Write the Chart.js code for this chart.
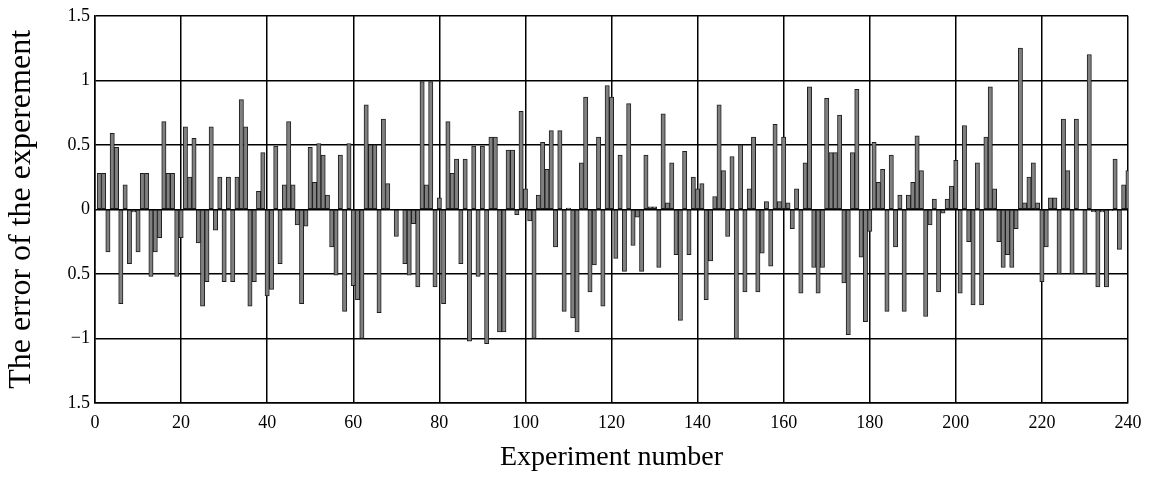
<!DOCTYPE html>
<html>
<head>
<meta charset="utf-8">
<script src="https://cdn.jsdelivr.net/npm/chart.js@4/dist/chart.umd.min.js"></script>
<style>
  html, body { margin: 0; padding: 0; background: #fff; }
  #wrap { width: 1160px; height: 499px; }
</style>
</head>
<body>
<div id="wrap"><canvas id="errChart" width="1160" height="499"></canvas></div>
<script>
// --- DATA (experiment 0..240) ---
const errors = [
    null,
    0.28, 0.28, -0.33, 0.59, 0.48, -0.73, 0.19, -0.42, -0.02, -0.33, 0.28, 0.28, -0.52, -0.33, -0.22, 0.68, 0.28, 0.28, -0.52, -0.22, 0.64, 0.25, 0.55, -0.26, -0.75,
    -0.56, 0.64, -0.16, 0.25, -0.56, 0.25, -0.56, 0.25, 0.85, 0.64, -0.75, -0.56, 0.14, 0.44, -0.67, -0.62, 0.49, -0.42, 0.19, 0.68, 0.19, -0.12, -0.73,
    -0.13, 0.48, 0.21, 0.51, 0.42, 0.11, -0.29, -0.51, 0.42, -0.79, 0.51, -0.59, -0.70, -1.0, 0.81, 0.5, 0.5, -0.80, 0.70, 0.20, 0.0, -0.21, 0.0, -0.42,
    -0.51, -0.11, -0.6, 0.99, 0.19, 0.99, -0.6, 0.09, -0.73, 0.68, 0.28, 0.39, -0.42, 0.39, -1.02, 0.49, -0.52, 0.49, -1.04, 0.56, 0.56, -0.95, -0.95, 0.46, 0.46,
    -0.04, 0.76, 0.16, -0.09, -1.0, 0.11, 0.52, 0.31, 0.61, -0.29, 0.61, -0.79, 0.01, -0.84, -0.95, 0.36, 0.87, -0.64, -0.43, 0.56, -0.75, 0.96, 0.87, -0.38,
    0.42, -0.48, 0.82, -0.28, -0.06, -0.48, 0.42, 0.02, 0.02, -0.45, 0.74, 0.05, 0.36, -0.35, -0.86, 0.45, -0.35, 0.25, 0.16, 0.20, -0.70, -0.40, 0.10, 0.81,
    0.30, -0.21, 0.41, -1.0, 0.5, -0.64, 0.16, 0.56, -0.64, -0.34, 0.06, -0.44, 0.66, 0.06, 0.56, 0.05, -0.15, 0.16, -0.65, 0.36, 0.95, -0.45, -0.65, -0.45, 0.86,
    0.44, 0.44, 0.73, -0.57, -0.97, 0.44, 0.93, -0.37, -0.87, -0.17, 0.52, 0.21, 0.31, -0.79, 0.42, -0.29, 0.11, -0.79, 0.11, 0.21, 0.57, 0.30, -0.83,
    -0.12, 0.08, -0.64, -0.03, 0.08, 0.18, 0.38, -0.65, 0.65, -0.25, -0.74, 0.36, -0.74, 0.56, 0.95, 0.16, -0.25, -0.45, -0.35, -0.45, -0.15, 1.25, 0.05, 0.25, 0.36,
    0.05, -0.56, -0.29, 0.09, 0.09, -0.5, 0.70, 0.30, -0.5, 0.70, 0.0, -0.5, 1.2, -0.02, -0.6, -0.02, -0.6, -0.01, 0.39, -0.31, 0.19, 0.30
];

const yTickValues = [1.5, 1, 0.5, 0, -0.5, -1, -1.5];
const yTickLabels = ['1.5', '1', '0.5', '0', '0.5', '\u22121', '1.5'];
const xTickStep = 20;
const xTitle = 'Experiment number';
const yTitle = 'The error of the experement';

// --- CHART ---
const points = errors.map((v, i) => ({ x: i, y: v }));
const serif = 'Liberation Serif, Times New Roman, serif';

new Chart(document.getElementById('errChart').getContext('2d'), {
    type: 'bar',
    data: {
        datasets: [{
            data: points,
            backgroundColor: '#808080',
            borderColor: '#1e1e1e',
            borderWidth: 1,
            borderSkipped: false,
            barPercentage: 1,
            categoryPercentage: 1,
            clip: 0
        }]
    },
    options: {
        responsive: false,
        animation: false,
        devicePixelRatio: 1,
        layout: { padding: { top: 15, right: 32, left: 0, bottom: 0 } },
        plugins: { legend: { display: false }, tooltip: { enabled: false } },
        scales: {
            x: {
                type: 'linear',
                min: 0,
                max: 240,
                offset: false,
                grid: { color: '#000', lineWidth: 1.5, offset: false, drawTicks: false },
                border: { color: '#000', width: 1.5 },
                ticks: {
                    stepSize: xTickStep,
                    padding: 9,
                    color: '#000',
                    maxRotation: 0,
                    font: { family: serif, size: 18 }
                },
                title: {
                    display: true,
                    text: xTitle,
                    color: '#000',
                    font: { family: serif, size: 28, lineHeight: 1 },
                    padding: { top: 0, bottom: 27 }
                },
                afterFit: (scale) => { scale.height = 96; }
            },
            y: {
                min: -1.5,
                max: 1.5,
                grid: { color: '#000', lineWidth: 1.5, drawTicks: false },
                border: { color: '#000', width: 1.5 },
                ticks: {
                    stepSize: 0.5,
                    padding: 5,
                    color: '#000',
                    font: { family: serif, size: 18 },
                    callback: (val) => {
                        const k = yTickValues.indexOf(val);
                        return k >= 0 ? yTickLabels[k] : '';
                    }
                },
                title: {
                    display: true,
                    text: yTitle,
                    color: '#000',
                    font: { family: serif, size: 32, lineHeight: 1 },
                    padding: { top: 6, bottom: 0 }
                },
                afterFit: (scale) => { scale.width = 95; }
            }
        }
    }
});
</script>
</body>
</html>
